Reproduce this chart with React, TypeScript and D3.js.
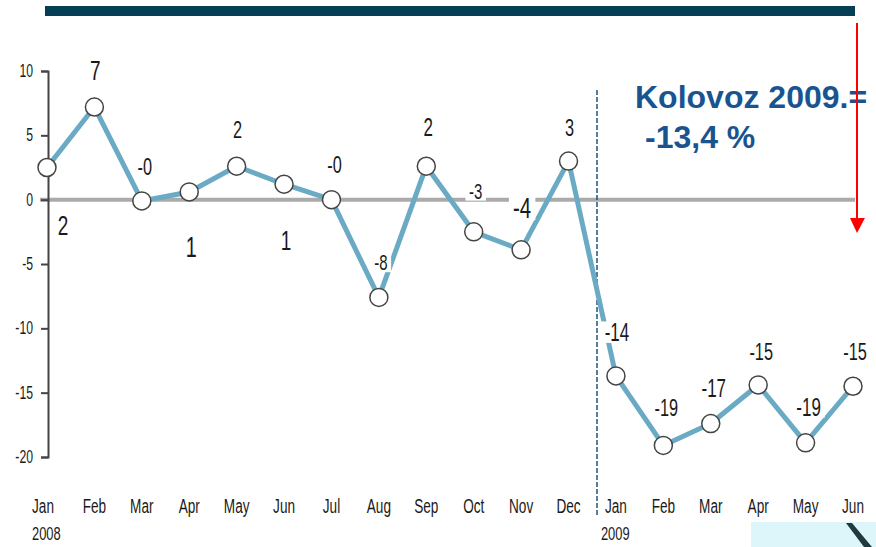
import * as d3 from "d3";
import React, { useEffect, useRef } from "react";

const months = ["Jan", "Feb", "Mar", "Apr", "May", "Jun", "Jul", "Aug", "Sep", "Oct", "Nov", "Dec",
  "Jan", "Feb", "Mar", "Apr", "May", "Jun"];
const yearLabels = ["2008", "", "", "", "", "", "", "", "", "", "", "", "2009", "", "", "", "", ""];
const values = [2.5, 7.2, -0.1, 0.6, 2.6, 1.2, 0.0, -7.6, 2.6, -2.5, -3.9, 3.0,
  -13.7, -19.1, -17.4, -14.4, -18.9, -14.5];
const valueLabels = ["2", "7", "-0", "1", "2", "1", "-0", "-8", "2", "-3", "-4", "3",
  "-14", "-19", "-17", "-15", "-19", "-15"];
const yTicks = [10, 5, 0, -5, -10, -15, -20];

// label layout: offset from the point (baseline) and font size
const labelDx = [16, 1, 3, 2, 1, 2, 3, 2, 2, 2, 1, 1, 1, 3, 3, 3, 3, 2];
const labelDy = [67, -27, -26, 65, -28, 66, -27, -27, -30, -33, -32, -25, -35, -29, -27, -25, -27, -26];
const labelSize = [28, 28, 24, 29, 24, 28, 24, 22, 25, 22, 30, 24, 25, 24, 25, 24, 25, 24];

const font = "'Liberation Sans', Arial, sans-serif";
const squeeze = 0.68;

function App() {
  const ref = useRef<SVGSVGElement>(null);

  useEffect(() => {
    const svg = d3.select(ref.current);
    svg.selectAll("*").remove();

    const x = d3.scalePoint<number>().domain(d3.range(months.length)).range([47, 853]);
    const y = d3.scaleLinear().domain([-20, 10]).range([457, 71]);

    // narrow text: horizontally squeezed
    const narrow = (g: any, tx: number, ty: number, size: number, txt: string, anchor = "middle") => {
      g.append("text")
        .attr("transform", `translate(${tx},${ty}) scale(${squeeze},1)`)
        .attr("text-anchor", anchor)
        .attr("font-family", font).attr("font-size", size).attr("fill", "#1a1a1a")
        .text(txt);
    };

    // top bar
    svg.append("rect").attr("x", 45).attr("y", 6).attr("width", 810).attr("height", 10).attr("fill", "#063e56");

    // zero line
    svg.append("line")
      .attr("x1", 40).attr("x2", 855)
      .attr("y1", y(0)).attr("y2", y(0))
      .attr("stroke", "#aaaaaa").attr("stroke-width", 4);

    // y axis
    const yAxis = svg.append("g")
      .attr("transform", "translate(48,0)")
      .call(d3.axisLeft(y).tickValues(yTicks).tickSize(7).tickFormat(() => ""));
    yAxis.select(".domain").attr("stroke", "#444").attr("stroke-width", 2);
    yAxis.selectAll(".tick line").attr("stroke", "#444").attr("stroke-width", 2);
    yTicks.forEach((t) => narrow(svg, 33, y(t) + 6, 18, String(t), "end"));

    // separator dashed line
    svg.append("line")
      .attr("x1", 597).attr("x2", 597).attr("y1", 90).attr("y2", 515)
      .attr("stroke", "#1d5478").attr("stroke-width", 1.5).attr("stroke-dasharray", "5,2");

    // series line
    const line = d3.line<number>().x((_, i) => x(i) as number).y((d) => y(d));
    svg.append("path").datum(values)
      .attr("d", line)
      .attr("fill", "none").attr("stroke", "#6aaac4").attr("stroke-width", 5)
      .attr("stroke-linejoin", "round");

    // value labels with white backing
    const lab = svg.append("g");
    values.forEach((d, i) => {
      const tx = (x(i) as number) + labelDx[i];
      const ty = y(d) + labelDy[i];
      const s = labelSize[i];
      const w = valueLabels[i].length * s * 0.55 * squeeze + 4;
      lab.append("rect")
        .attr("x", tx - w / 2).attr("y", ty - s * 0.78).attr("width", w).attr("height", s * 0.86)
        .attr("fill", "white");
      narrow(lab, tx, ty, s, valueLabels[i]);
    });

    // markers
    svg.append("g").selectAll("circle").data(values).enter().append("circle")
      .attr("cx", (_, i) => x(i) as number).attr("cy", (d) => y(d)).attr("r", 9)
      .attr("fill", "white").attr("stroke", "#444").attr("stroke-width", 1.5);

    // x labels
    const xl = svg.append("g");
    months.forEach((m, i) => {
      const px = x(i) as number;
      narrow(xl, i === 0 ? 43 : px, 513, 20, m);
      if (yearLabels[i]) narrow(xl, px - 15, 540, 19, yearLabels[i], "start");
    });

    // annotation
    svg.append("text").attr("x", 635).attr("y", 108)
      .attr("font-family", font).attr("font-weight", "bold")
      .attr("font-size", 32).attr("fill", "#1a5490").text("Kolovoz 2009.=");
    svg.append("text").attr("x", 645).attr("y", 148)
      .attr("font-family", font).attr("font-weight", "bold")
      .attr("font-size", 32).attr("fill", "#1a5490").text("-13,4 %");

    // red arrow
    svg.append("line").attr("x1", 857).attr("x2", 857).attr("y1", 23).attr("y2", 222)
      .attr("stroke", "#ff0000").attr("stroke-width", 2);
    svg.append("path").attr("d", "M850,218 L865,218 L857,233 Z").attr("fill", "#ff0000");

    // corner decoration
    svg.append("rect").attr("x", 751).attr("y", 522).attr("width", 125).attr("height", 25).attr("fill", "#dcf6fa");
    svg.append("path").attr("d", "M846,523 L852,523 L872,547 L864,547 Z").attr("fill", "#1f3a40");
  }, []);

  return (
    <svg ref={ref} width={876} height={547}
      style={{ position: "absolute", left: 0, top: 0, background: "white" }} />
  );
}

export default App;
